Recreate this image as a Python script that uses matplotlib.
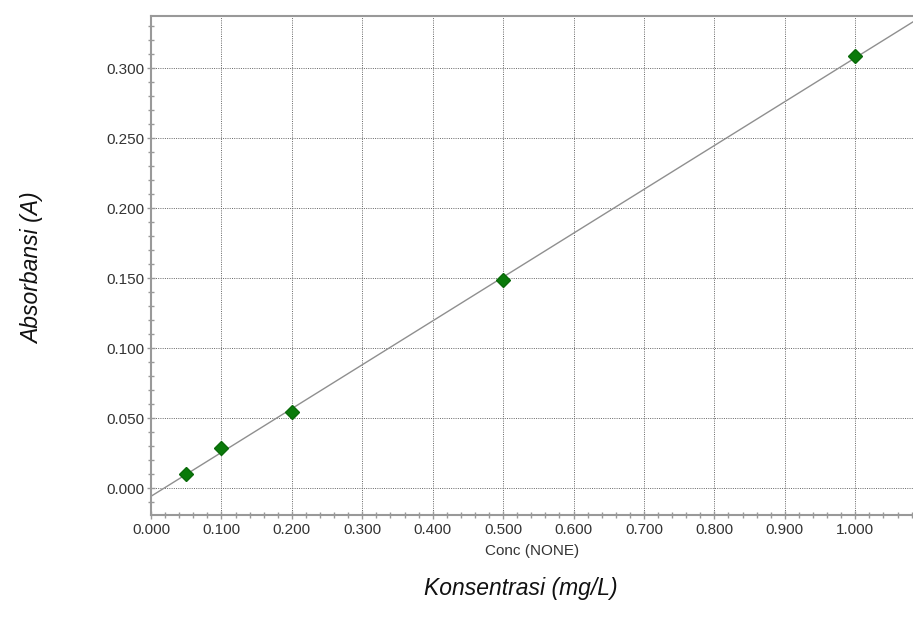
import numpy as np
import matplotlib.pyplot as plt
from matplotlib.ticker import MultipleLocator, FormatStrFormatter

plt.rcParams['font.family'] = ['Liberation Sans', 'DejaVu Sans']

# data
conc = np.array([0.05, 0.10, 0.20, 0.50, 1.00])
absorb = np.array([0.0104, 0.0286, 0.0547, 0.1488, 0.3088])

# linear calibration fit
slope, intercept = np.polyfit(conc, absorb, 1)
xlim = (0.0, 1.082)
ylim = (-0.019, 0.3376)
xfit = np.array(xlim)
yfit = slope * xfit + intercept

fig = plt.figure(figsize=(9.13, 6.30), dpi=100)
ax = fig.add_axes([0.1654, 0.1825, 0.8346, 0.7925])

ax.plot(xfit, yfit, color='#8f8f8f', lw=1.0, zorder=2)
ax.plot(conc, absorb, 'D', color='#0a7a0a', ms=7, mec='#0a6a0a', zorder=3)

ax.set_xlim(xlim)
ax.set_ylim(ylim)
ax.xaxis.set_major_locator(MultipleLocator(0.1))
ax.xaxis.set_minor_locator(MultipleLocator(0.02))
ax.yaxis.set_major_locator(MultipleLocator(0.05))
ax.yaxis.set_minor_locator(MultipleLocator(0.01))
ax.xaxis.set_major_formatter(FormatStrFormatter('%.3f'))
ax.yaxis.set_major_formatter(FormatStrFormatter('%.3f'))

ax.grid(True, which='major', linestyle=(0, (1, 1.3)), color='#666666', lw=0.7)

for side in ['left', 'bottom', 'top']:
    ax.spines[side].set_color('#999999')
    ax.spines[side].set_linewidth(1.5)
ax.spines['right'].set_visible(False)

ax.tick_params(which='major', direction='inout', length=6, width=1, color='#999999',
               labelsize=11, labelcolor='#333333')
ax.tick_params(which='minor', direction='inout', length=4, width=1, color='#999999')
ax.tick_params(axis='y', which='major', pad=1.5)
ax.tick_params(axis='x', which='major', pad=3)

ax.set_xlabel('Conc (NONE)', fontsize=11, color='#333333', labelpad=4.5)

fig.text(0.570, 1 - 589 / 630, 'Konsentrasi (mg/L)', fontsize=16.5, style='italic',
         ha='center', va='center', color='#111111')
fig.text(33 / 913, 1 - 268 / 630, 'Absorbansi (A)', fontsize=16.5, style='italic',
         rotation=90, ha='center', va='center', color='#111111')

fig.savefig('out.png', dpi=100)
